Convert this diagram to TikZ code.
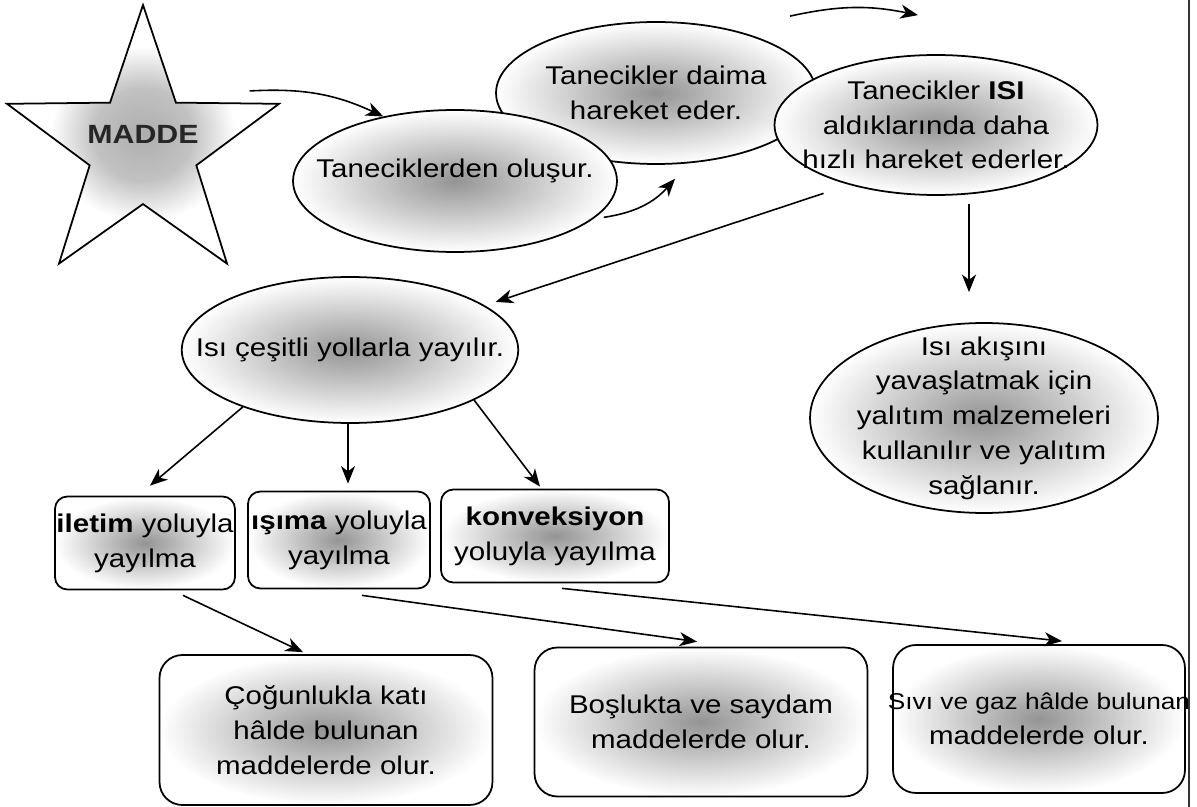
\documentclass[tikz,border=0pt]{standalone}
\usepackage{fontspec}
\setmainfont{Liberation Sans}[FakeStretch=1.15]
\usepackage{tikz}
\usetikzlibrary{shapes.geometric}
\usetikzlibrary{arrows.meta}

\pgfdeclareradialshading{lekeyildiz}{\pgfpoint{0bp}{0bp}}{color(0bp)=(black!32);
    color(9bp)=(black!24); color(17bp)=(white); color(50bp)=(white)}

\begin{document}
\begin{tikzpicture}[x=0.02cm, y=-0.02cm,
            every node/.style={font=\fontsize{14.6}{19.8}\selectfont, align=center},
            blob/.style={draw, line width=1pt, shading=radial, inner color=black!42,
                outer color=white, inner sep=-20pt},
            oval/.style={blob, ellipse},
            kutu/.style={blob, rectangle, rounded corners=7pt},
            genis/.style={blob, rectangle, rounded corners=13pt},
            ok/.style={-{Stealth[length=10pt, width=8pt, inset=3pt]}, line width=0.9pt}]
            \useasboundingbox (0, 0) rectangle (1197, 807);
            \fill [white] (0, 0) rectangle (1197, 807);
            \draw [line width=1pt, black!80] (1189, 0) -- (1189, 807);
            % star
            \node [draw, line width=1pt, shading=lekeyildiz, star, star points=5,
                star point ratio=2.55, inner sep=0pt, minimum size=5.72cm] (madde) at (143, 148) {};
            \node [font=\fontsize{15}{18}\selectfont\bfseries, text=black!85]
                (maddeyazi) at (143, 134) {MADDE};
            % ellipses
            \node [oval, minimum width=6.4cm, minimum height=2.84cm] (daima) at (656, 93)
                {Tanecikler daima\\hareket eder.};
            \node [oval, minimum width=6.48cm, minimum height=2.84cm, text depth=14pt]
                (tanecik) at (455, 181) {Taneciklerden oluşur.};
            \node [oval, minimum width=6.46cm, minimum height=2.8cm] (isi) at (936, 125)
                {Tanecikler \textbf{ISI}\\aldıklarında daha\\hızlı hareket ederler.};
            \node [oval, minimum width=6.5cm, minimum height=2.92cm] (yayilir) at (350, 350)
                {Isı çeşitli yollarla yayılır.};
            \node [oval, minimum width=6.96cm, minimum height=3.8cm] (yalitim) at (984, 418)
                {Isı akışını\\yavaşlatmak için\\yalıtım malzemeleri\\kullanılır ve yalıtım\\sağlanır.};
            % boxes
            \node [kutu, minimum width=3.6cm, minimum height=1.86cm] (iletim) at (145, 543)
                {\textbf{iletim} yoluyla\\yayılma};
            \node [kutu, minimum width=3.64cm, minimum height=1.94cm] (isima) at (339, 540)
                {\textbf{ışıma} yoluyla\\yayılma};
            \node [kutu, minimum width=4.56cm, minimum height=1.86cm] (konv) at (555, 536)
                {\textbf{konveksiyon}\\yoluyla yayılma};
            \node [genis, minimum width=6.66cm, minimum height=3cm] (kati) at (326, 730)
                {Çoğunlukla katı\\hâlde bulunan\\maddelerde olur.};
            \node [genis, minimum width=6.66cm, minimum height=2.98cm] (bosluk) at (701, 722)
                {Boşlukta ve saydam\\maddelerde olur.};
            \node [genis, minimum width=5.84cm, minimum height=2.96cm] (sivi) at (1039, 719)
                {{\fontsize{13}{19.8}\selectfont Sıvı ve gaz hâlde bulunan}\\maddelerde olur.};
            % arrows
            \draw [ok] ([shift={(-32,-12)}]madde.outer point 5) to[bend left=14] (tanecik.138);
            \draw [ok] ([shift={(7,1)}]tanecik.-14) to[bend right=20] ([shift={(19,14)}]daima.south);
            \draw [ok] ([shift={(134,-5)}]daima.north) to[bend left=12] ([shift={(-18,-39)}]isi.north);
            \draw [ok] ([shift={(-17,11)}]isi.211) -- ([shift={(10,-4)}]yayilir.18);
            \draw [ok] ([shift={(33,8)}]isi.south) -- ([shift={(-15,-30)}]yalitim.north);
            \draw [ok] (yayilir.208) -- ([shift={(5,-10)}]iletim.north);
            \draw [ok] ([shift={(-2,0)}]yayilir.south) -- ([shift={(9,-7)}]isima.north);
            \draw [ok] (yayilir.-22) -- ([shift={(-15,-2)}]konv.north);
            \draw [ok] ([shift={(38,5)}]iletim.south) -- ([shift={(-23,-2)}]kati.north);
            \draw [ok] ([shift={(23,6)}]isima.south) -- ([shift={(-4,-5)}]bosluk.north);
            \draw [ok] ([shift={(7,5)}]konv.south) -- ([shift={(23,-3)}]sivi.north);
        \end{tikzpicture}
\end{document}
